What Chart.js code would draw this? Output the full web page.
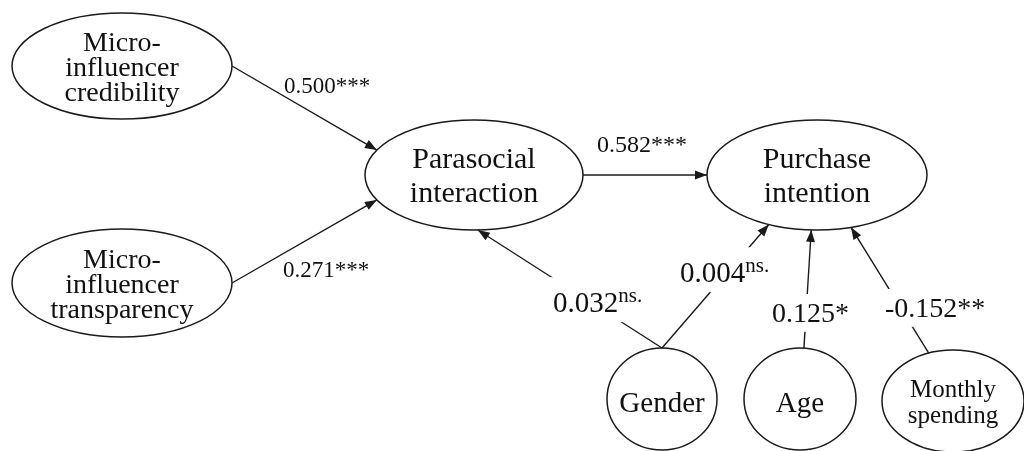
<!DOCTYPE html>
<html>
<head>
<meta charset="utf-8">
<script src="https://cdn.jsdelivr.net/npm/chart.js@4.4.1/dist/chart.umd.min.js"></script>
<style>
  body { margin: 0; background: #ffffff; }
  canvas { display: block; }
</style>
</head>
<body>
<canvas id="diagram" width="1024" height="451"></canvas>
<script>
// Nodos del modelo (texto de cada elipse)
const nodeNames = [
    ['Micro-', 'influencer', 'credibility'],
    ['Micro-', 'influencer', 'transparency'],
    ['Parasocial', 'interaction'],
    ['Purchase', 'intention'],
    ['Gender'],
    ['Age'],
    ['Monthly', 'spending']
];

// Caminos: origen, destino, coeficiente y significancia
const pathFrom = [0, 1, 2, 4, 4, 5, 6];
const pathTo = [2, 2, 3, 2, 3, 3, 3];
const pathCoef = ['0.500', '0.271', '0.582', '0.032', '0.004', '0.125', '-0.152'];
const pathSig = ['***', '***', '***', 'ns.', 'ns.', '*', '**'];

// Disposición (en unidades de los ejes, 0..1024 x 0..451)
const nodeX = [122, 122, 474, 817, 662, 800, 953];
const nodeY = [66, 283, 175, 175, 399, 399, 401];
const nodeRx = [110, 110, 109, 110, 55, 56, 71];
const nodeRy = [53, 54, 55, 55, 51, 51, 51];
const nodeFont = [28, 28, 30, 30, 29, 29, 25];
const nodeLineH = [25, 25, 34, 34, 0, 0, 26];

// Puntos de anclaje de cada flecha sobre las elipses (grados)
const fromAngle = [0, 0, 0, -90, -90, -86, -110];
const toAngle = [-153, 153, 180, 88, 116, 93, 72];

// Posición de las etiquetas (izquierda, línea base)
const labelX = [284, 283, 597, 553, 680, 772, 885];
const labelY = [93, 277, 152, 312, 282, 322, 317];
const labelSize = [23, 23, 24, 29, 29, 28, 28];
const labelBreak = [false, false, false, true, true, true, true];

const FONT = '"Liberation Serif", "Times New Roman", serif';
const INK = '#1a1a1a';

function anchor(i, deg) {
    const t = deg * Math.PI / 180;
    return { x: nodeX[i] + nodeRx[i] * Math.cos(t), y: nodeY[i] + nodeRy[i] * Math.sin(t) };
}

// Un dataset de línea por cada camino
const edgeSets = pathFrom.map((f, k) => ({
    type: 'line',
    data: [anchor(f, fromAngle[k]), anchor(pathTo[k], toAngle[k])],
    borderColor: INK,
    borderWidth: 1.4,
    pointRadius: 0,
    showLine: true,
    fill: false,
    tension: 0
}));

const nodeSet = {
    type: 'scatter',
    data: nodeX.map((x, i) => ({ x: x, y: nodeY[i] })),
    pointRadius: 0
};

// Plugin: elipses, puntas de flecha y etiquetas
const diagramPlugin = {
    id: 'pathDiagram',
    afterDatasetsDraw(chart) {
        const ctx = chart.ctx;
        const xs = chart.scales.x;
        const ys = chart.scales.y;
        const px = v => xs.getPixelForValue(v);
        const py = v => ys.getPixelForValue(v);
        ctx.save();

        // puntas de flecha
        pathFrom.forEach((f, k) => {
            const a = anchor(f, fromAngle[k]);
            const b = anchor(pathTo[k], toAngle[k]);
            const x0 = px(a.x), y0 = py(a.y), x1 = px(b.x), y1 = py(b.y);
            const ang = Math.atan2(y1 - y0, x1 - x0);
            const len = 12, half = 4.5;
            ctx.fillStyle = INK;
            ctx.beginPath();
            ctx.moveTo(x1, y1);
            ctx.lineTo(x1 - len * Math.cos(ang) + half * Math.sin(ang), y1 - len * Math.sin(ang) - half * Math.cos(ang));
            ctx.lineTo(x1 - len * Math.cos(ang) - half * Math.sin(ang), y1 - len * Math.sin(ang) + half * Math.cos(ang));
            ctx.closePath();
            ctx.fill();
        });

        // elipses con su texto
        nodeNames.forEach((lines, i) => {
            const cx = px(nodeX[i]), cy = py(nodeY[i]);
            const rx = Math.abs(px(nodeX[i] + nodeRx[i]) - cx);
            const ry = Math.abs(py(nodeY[i] + nodeRy[i]) - cy);
            ctx.beginPath();
            ctx.ellipse(cx, cy, rx, ry, 0, 0, Math.PI * 2);
            ctx.strokeStyle = INK;
            ctx.lineWidth = 1.5;
            ctx.stroke();

            const size = nodeFont[i];
            ctx.font = size + 'px ' + FONT;
            ctx.fillStyle = '#111111';
            ctx.textAlign = 'center';
            ctx.textBaseline = 'alphabetic';
            const lh = nodeLineH[i];
            const shift = size * 0.34 + (lines.length === 1 ? 3 : 0);
            const first = cy + shift - (lines.length - 1) * lh / 2;
            lines.forEach((s, j) => ctx.fillText(s, cx, first + j * lh));
        });

        // etiquetas de coeficientes
        pathCoef.forEach((coef, k) => {
            const size = labelSize[k];
            const x = px(labelX[k]), y = py(labelY[k]);
            const sup = pathSig[k] === 'ns.';
            const supSize = Math.round(size * 0.72);
            ctx.font = size + 'px ' + FONT;
            const w1 = ctx.measureText(coef).width;
            ctx.font = (sup ? supSize : size) + 'px ' + FONT;
            const w2 = ctx.measureText(pathSig[k]).width;
            if (labelBreak[k]) {
                // el cuadro blanco corta la línea detrás de la etiqueta
                const top = sup ? size * 1.2 : size * 1.0;
                ctx.fillStyle = '#ffffff';
                ctx.fillRect(x - 4, y - top, w1 + w2 + 8, top + size * 0.35);
            }
            ctx.fillStyle = '#111111';
            ctx.textAlign = 'left';
            ctx.textBaseline = 'alphabetic';
            ctx.font = size + 'px ' + FONT;
            ctx.fillText(coef, x, y);
            if (sup) {
                ctx.font = supSize + 'px ' + FONT;
                ctx.fillText(pathSig[k], x + w1, y - size * 0.36);
            } else {
                ctx.font = size + 'px ' + FONT;
                ctx.fillText(pathSig[k], x + w1, y);
            }
        });
        ctx.restore();
    }
};

const config = {
    type: 'scatter',
    data: { datasets: [nodeSet].concat(edgeSets) },
    options: {
        responsive: false,
        animation: false,
        devicePixelRatio: 1,
        layout: { padding: 0 },
        plugins: {
            legend: { display: false },
            tooltip: { enabled: false }
        },
        scales: {
            x: { type: 'linear', min: 0, max: 1024, display: false },
            y: { type: 'linear', min: 0, max: 451, reverse: true, display: false }
        }
    },
    plugins: [diagramPlugin]
};

new Chart(document.getElementById('diagram').getContext('2d'), config);
</script>
</body>
</html>
